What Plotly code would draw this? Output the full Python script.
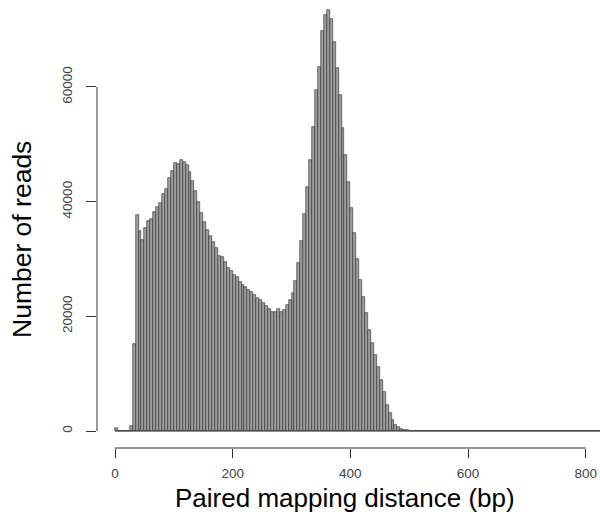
import plotly.graph_objects as go

# Histogram of paired mapping distance, bins of 5 bp starting at 0
bin_width = 5
counts = [
    580, 0, 0, 0, 0, 870, 15170, 37670, 34940, 33310,
    35350, 36680, 36910, 38250, 39120, 39820, 41280, 42150, 44070, 45400,
    46680, 46570, 47260, 46970, 46390, 45230, 43660, 41910, 39990, 38080,
    36500, 35050, 34010, 33020, 31860, 30520, 30290, 29530, 28370, 27960,
    27210, 26800, 26040, 25460, 25060, 24600, 24190, 23720, 23140, 22850,
    22380, 21850, 21280, 20810, 20810, 21220, 20810, 21100, 21970, 22850,
    24010, 26160, 29240, 33190, 37790, 42610, 47260, 53070, 59470, 63540,
    69760, 72550, 73420, 71850, 67900, 63250, 58600, 52790, 48130, 43490,
    38830, 34470, 29940, 26330, 23430, 20520, 17610, 15290, 13250, 11220,
    8890, 6860, 4530, 3080, 1920, 1050, 640, 290, 170, 100,
    50,
]
n_zero_tail = 65  # empty bins drawn as a flat line along zero
counts = counts + [0] * n_zero_tail
bin_starts = [i * bin_width for i in range(len(counts))]
bin_centers = [b + bin_width / 2 for b in bin_starts]

x_ticks = [0, 200, 400, 600, 800]
y_ticks = [0, 20000, 40000, 60000]

x_title = "Paired mapping distance (bp)"
y_title = "Number of reads"

fig = go.Figure()

# zero-height bins: R draws them as a line on the baseline
fig.add_trace(go.Scatter(
    x=[bin_starts[0], bin_starts[-1] + bin_width], y=[0, 0],
    mode="lines", line=dict(color="#333333", width=1),
    hoverinfo="skip", showlegend=False,
))

fig.add_trace(go.Bar(
    x=bin_centers, y=counts, width=bin_width,
    marker=dict(color="#9e9e9e", line=dict(color="#2a2a2a", width=0.6)),
    showlegend=False,
))

fig.update_layout(
    width=600, height=523,
    margin=dict(l=97, r=0, t=0, b=75),
    paper_bgcolor="white", plot_bgcolor="white",
    bargap=0,
    font=dict(family="Liberation Sans, Arial, sans-serif", color="#000000"),
    xaxis=dict(
        range=[-30.6, 824.3], tickvals=x_ticks, ticktext=[str(v) for v in x_ticks],
        ticks="outside", ticklen=9, tickcolor="#333333", tickwidth=1,
        showline=False, showgrid=False, zeroline=False,
        tickfont=dict(size=13.5, color="#444444"), ticklabelstandoff=4,
    ),
    yaxis=dict(
        range=[-2965, 75166], tickvals=y_ticks, ticktext=[str(v) for v in y_ticks],
        ticks="outside", ticklen=10, tickcolor="#333333", tickwidth=1,
        showline=False, showgrid=False, zeroline=False, tickangle=-90,
        tickfont=dict(size=13.5, color="#444444"), ticklabelstandoff=9,
    ),
    annotations=[
        dict(text=x_title, xref="paper", yref="paper", x=(345 - 97) / 503, y=-(498 - 448) / 448,
             xanchor="center", yanchor="middle", showarrow=False,
             font=dict(size=26, color="#000000")),
        dict(text=y_title, xref="paper", yref="paper", x=(22 - 97) / 503, y=1 - 240 / 448,
             xanchor="center", yanchor="middle", showarrow=False, textangle=-90,
             font=dict(size=26.5, color="#000000")),
    ],
    shapes=[
        dict(type="line", xref="x", yref="paper", x0=x_ticks[0], x1=x_ticks[-1], y0=0, y1=0,
             line=dict(color="#333333", width=1)),
        dict(type="line", xref="paper", yref="y", x0=0, x1=0, y0=y_ticks[0], y1=y_ticks[-1],
             line=dict(color="#333333", width=1)),
    ],
)

fig.write_html(
    "out.html",
    config={"displayModeBar": False},
    post_script="document.body.style.margin='0';document.body.style.padding='0';"
                "document.body.style.overflow='hidden';",
)
